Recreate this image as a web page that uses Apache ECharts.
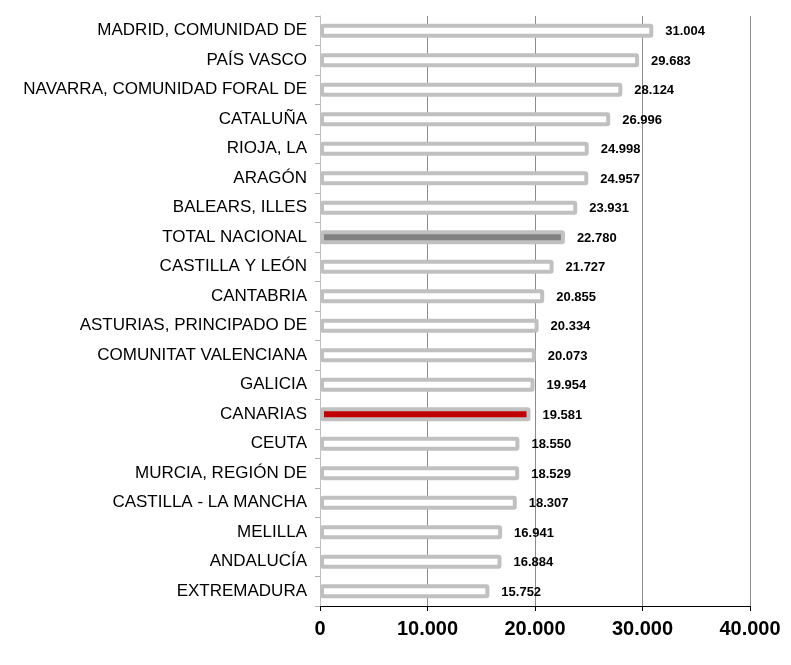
<!DOCTYPE html>
<html>
<head>
<meta charset="utf-8">
<script src="https://cdn.jsdelivr.net/npm/echarts@6/dist/echarts.min.js"></script>
<style>
  html, body { margin: 0; padding: 0; background: #fff; }
  #chart { width: 791px; height: 665px; }
</style>
</head>
<body>
<div id="chart"></div>
<script>
  // comunidades, de arriba abajo
  var regiones = ['MADRID, COMUNIDAD DE', 'PAÍS VASCO', 'NAVARRA, COMUNIDAD FORAL DE', 'CATALUÑA',
    'RIOJA, LA', 'ARAGÓN', 'BALEARS, ILLES', 'TOTAL NACIONAL', 'CASTILLA Y LEÓN', 'CANTABRIA',
    'ASTURIAS, PRINCIPADO DE', 'COMUNITAT VALENCIANA', 'GALICIA', 'CANARIAS', 'CEUTA',
    'MURCIA, REGIÓN DE', 'CASTILLA - LA MANCHA', 'MELILLA', 'ANDALUCÍA', 'EXTREMADURA'];
  var valores = [31004, 29683, 28124, 26996, 24998, 24957, 23931, 22780, 21727, 20855,
    20334, 20073, 19954, 19581, 18550, 18529, 18307, 16941, 16884, 15752];
  var ticksX = [0, 10000, 20000, 30000, 40000];

  function miles(v) {
    return String(v).replace(/\B(?=(\d{3})+(?!\d))/g, '.');
  }

  var myChart = echarts.init(document.getElementById('chart'));

  var datos = valores.map(function (v, i) {
    var relleno = '#ffffff';
    if (regiones[i] === 'TOTAL NACIONAL') relleno = '#808080';
    if (regiones[i] === 'CANARIAS') relleno = '#c00000';
    return { value: v, itemStyle: { color: relleno } };
  });

  var option = {
    animation: false,
    grid: { left: 320, right: 41, top: 16, bottom: 59 },
    xAxis: {
      type: 'value',
      min: ticksX[0],
      max: ticksX[ticksX.length - 1],
      interval: 10000,
      axisLine: { show: true, lineStyle: { color: '#000', width: 1 } },
      axisTick: { show: true, length: 5, lineStyle: { color: '#000' } },
      splitLine: { show: true, lineStyle: { color: '#8c8c8c', width: 1 } },
      axisLabel: {
        margin: 13,
        color: '#000',
        fontFamily: 'Liberation Sans, Arial, sans-serif',
        fontWeight: 'bold',
        fontSize: 20,
        formatter: function (v) { return miles(v); }
      }
    },
    yAxis: {
      type: 'category',
      inverse: true,
      data: regiones,
      axisLine: { show: true, lineStyle: { color: '#c0c0c0', width: 1 } },
      axisTick: { show: true, length: 5, lineStyle: { color: '#b0b0b0' } },
      axisLabel: {
        margin: 13,
        color: '#000',
        fontFamily: 'Liberation Sans, Arial, sans-serif',
        fontSize: 17
      }
    },
    series: [{
      type: 'bar',
      data: datos,
      barWidth: 14,
      itemStyle: {
        borderColor: '#c0c0c0',
        borderWidth: 4,
        borderRadius: 1
      },
      label: {
        show: true,
        position: 'right',
        distance: 12,
        color: '#000',
        fontFamily: 'Liberation Sans, Arial, sans-serif',
        fontWeight: 'bold',
        fontSize: 13,
        offset: [0, 1],
        formatter: function (p) { return miles(p.value); }
      }
    }]
  };

  myChart.setOption(option);
</script>
</body>
</html>
